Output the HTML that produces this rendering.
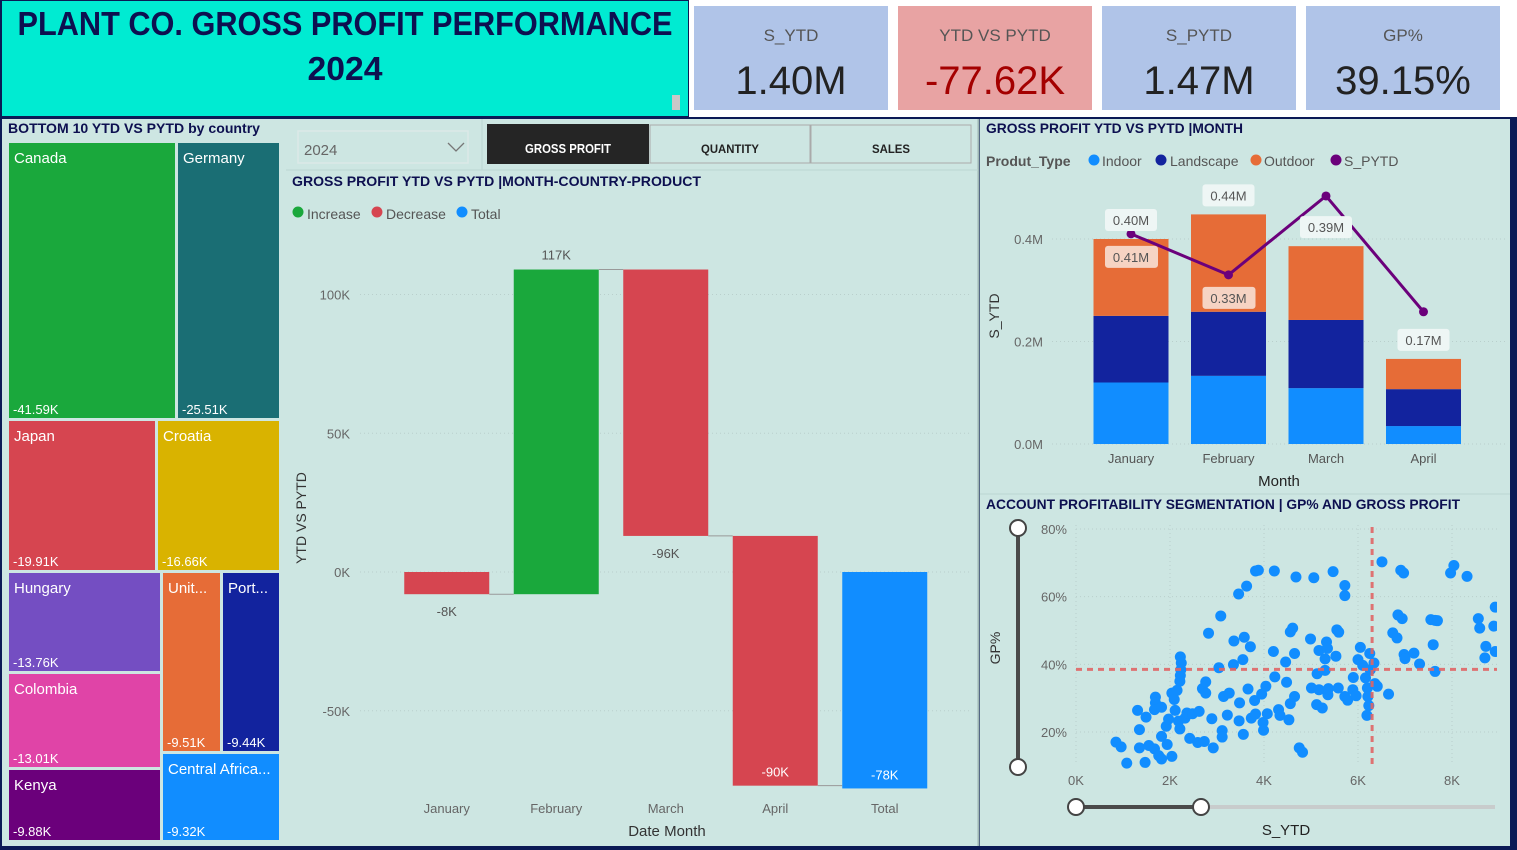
<!DOCTYPE html>
<html><head><meta charset="utf-8"><style>
html,body{margin:0;padding:0;background:#0b1a55;}
svg{display:block;font-family:"Liberation Sans",sans-serif;}
</style></head><body>
<svg id="root" width="1517" height="850" viewBox="0 0 1517 850" xmlns="http://www.w3.org/2000/svg">
<rect x="0" y="0" width="1517" height="850" fill="#0b1a55"/>
<!-- header -->
<rect x="2" y="1" width="686" height="115" fill="#00ebd2"/>
<text x="345" y="35" text-anchor="middle" font-size="33" font-weight="bold" fill="#0d1050" textLength="655" lengthAdjust="spacingAndGlyphs">PLANT CO. GROSS PROFIT PERFORMANCE</text>
<text x="345" y="80" text-anchor="middle" font-size="33" font-weight="bold" fill="#0d1050" textLength="75" lengthAdjust="spacingAndGlyphs">2024</text>
<rect x="672" y="95" width="8" height="15" fill="#c8c8c8"/>
<rect x="689" y="0" width="828" height="117" fill="#ffffff"/>
<g><rect x="694" y="6" width="194" height="104" fill="#b0c4e8"/><text x="791" y="41" text-anchor="middle" font-size="17" fill="#555">S_YTD</text><text x="791" y="94" text-anchor="middle" font-size="40" fill="#222">1.40M</text></g>
<g><rect x="898" y="6" width="194" height="104" fill="#e8a3a3"/><text x="995" y="41" text-anchor="middle" font-size="17" fill="#555">YTD VS PYTD</text><text x="995" y="94" text-anchor="middle" font-size="40" fill="#a40000">-77.62K</text></g>
<g><rect x="1102" y="6" width="194" height="104" fill="#b0c4e8"/><text x="1199" y="41" text-anchor="middle" font-size="17" fill="#555">S_PYTD</text><text x="1199" y="94" text-anchor="middle" font-size="40" fill="#222">1.47M</text></g>
<g><rect x="1306" y="6" width="194" height="104" fill="#b0c4e8"/><text x="1403" y="41" text-anchor="middle" font-size="17" fill="#555">GP%</text><text x="1403" y="94" text-anchor="middle" font-size="40" fill="#222">39.15%</text></g>
<!-- panels -->
<rect x="2" y="119" width="284" height="727" fill="#cde6e2"/>
<rect x="286" y="119" width="692" height="727" fill="#cde6e2"/>
<rect x="980" y="119" width="530" height="727" fill="#cde6e2"/>
<line x1="978.5" y1="119" x2="978.5" y2="846" stroke="#9fb7b4" stroke-width="2"/>
<line x1="980" y1="494" x2="1510" y2="494" stroke="#bcd6d2"/>
<line x1="286" y1="170" x2="978" y2="170" stroke="#bcd6d2"/>
<line x1="482" y1="119" x2="482" y2="170" stroke="#bcd6d2"/>
<!-- treemap -->
<text x="8" y="133" font-size="14" font-weight="bold" fill="#0d1050" textLength="252" lengthAdjust="spacingAndGlyphs">BOTTOM 10 YTD VS PYTD by country</text>
<g id="treemap"></g>
<!-- slicer and buttons -->
<g><rect x="298" y="131" width="170" height="32" fill="#cde6e2" stroke="#dbe9e7" stroke-width="1.5"/><text x="304" y="155" font-size="15" fill="#666">2024</text><polyline points="448,143 456,151 464,143" fill="none" stroke="#777" stroke-width="1.3"/></g>
<g><rect x="487" y="124" width="162" height="40" fill="#252525"/><text x="568" y="153" text-anchor="middle" font-size="13" font-weight="bold" fill="#fff" textLength="86" lengthAdjust="spacingAndGlyphs">GROSS PROFIT</text></g>
<g><rect x="650" y="125" width="160" height="38" fill="#cde6e2" stroke="#aaa"/><text x="730" y="153" text-anchor="middle" font-size="12" font-weight="bold" fill="#222" textLength="58" lengthAdjust="spacingAndGlyphs">QUANTITY</text></g>
<g><rect x="811" y="125" width="160" height="38" fill="#cde6e2" stroke="#aaa"/><text x="891" y="153" text-anchor="middle" font-size="12" font-weight="bold" fill="#222" textLength="38" lengthAdjust="spacingAndGlyphs">SALES</text></g>
<!-- waterfall -->
<text x="292" y="186" font-size="14" font-weight="bold" fill="#0d1050" textLength="409" lengthAdjust="spacingAndGlyphs">GROSS PROFIT YTD VS PYTD |MONTH-COUNTRY-PRODUCT</text>
<g font-size="14" fill="#555">
<circle cx="298" cy="212" r="5.5" fill="#1aa83c"/><text x="307" y="219">Increase</text>
<circle cx="377" cy="212" r="5.5" fill="#d64550"/><text x="386" y="219">Decrease</text>
<circle cx="462" cy="212" r="5.5" fill="#118dff"/><text x="471" y="219">Total</text></g>
<g id="waterfall"></g>
<text x="306" y="518" font-size="14" fill="#333" transform="rotate(-90 306 518)" text-anchor="middle">YTD VS PYTD</text>
<text x="667" y="836" font-size="15" fill="#333" text-anchor="middle">Date Month</text>
<!-- stacked bar -->
<text x="986" y="133" font-size="14" font-weight="bold" fill="#0d1050" textLength="257" lengthAdjust="spacingAndGlyphs">GROSS PROFIT YTD VS PYTD |MONTH</text>
<g font-size="14" fill="#555">
<text x="986" y="166" font-weight="bold">Produt_Type</text>
<circle cx="1094" cy="160" r="5.5" fill="#118dff"/><text x="1102" y="166">Indoor</text>
<circle cx="1161" cy="160" r="5.5" fill="#12239e"/><text x="1170" y="166">Landscape</text>
<circle cx="1256" cy="160" r="5.5" fill="#e66c37"/><text x="1264" y="166">Outdoor</text>
<circle cx="1336" cy="160" r="5.5" fill="#6b007b"/><text x="1344" y="166">S_PYTD</text></g>
<g id="bars"></g>
<text x="999" y="316" font-size="14" fill="#333" transform="rotate(-90 999 316)" text-anchor="middle">S_YTD</text>
<text x="1279" y="486" font-size="15" fill="#222" text-anchor="middle">Month</text>
<!-- scatter -->
<text x="986" y="509" font-size="14" font-weight="bold" fill="#0d1050" textLength="474" lengthAdjust="spacingAndGlyphs">ACCOUNT PROFITABILITY SEGMENTATION | GP% AND GROSS PROFIT</text>
<g id="scatter"></g>
<text x="1000" y="648" font-size="14" fill="#333" transform="rotate(-90 1000 648)" text-anchor="middle">GP%</text>
<text x="1286" y="835" font-size="15" fill="#222" text-anchor="middle">S_YTD</text>
<g><line x1="1018" y1="528" x2="1018" y2="767" stroke="#4a4a4a" stroke-width="4"/><circle cx="1018" cy="528" r="8" fill="#fff" stroke="#444" stroke-width="2"/><circle cx="1018" cy="767" r="8" fill="#fff" stroke="#444" stroke-width="2"/></g>
<g><line x1="1076" y1="807" x2="1495" y2="807" stroke="#c8cccc" stroke-width="4"/><line x1="1076" y1="807" x2="1201" y2="807" stroke="#4a4a4a" stroke-width="4"/><circle cx="1076" cy="807" r="8" fill="#fff" stroke="#444" stroke-width="2"/><circle cx="1201" cy="807" r="8" fill="#fff" stroke="#444" stroke-width="2"/></g>
</svg>
<script>
const NS="http://www.w3.org/2000/svg";
function mk(parent,tag,attrs,txt){const e=document.createElementNS(NS,tag);for(const k in attrs)e.setAttribute(k,attrs[k]);if(txt!==undefined)e.textContent=txt;parent.appendChild(e);return e;}

/* ---------- treemap ---------- */
const tmCountries=["Canada","Germany","Japan","Croatia","Hungary","Colombia","Kenya","Unit...","Port...","Central Africa..."];
const tmValues=["-41.59K","-25.51K","-19.91K","-16.66K","-13.76K","-13.01K","-9.88K","-9.51K","-9.44K","-9.32K"];
const tmColors=["#1aa83c","#1a6e74","#d64550","#d9b300","#744ec2","#e044a7","#6b007b","#e66c37","#12239e","#118dff"];
const tmRects=[[9,143,166,275],[178,143,101,275],[9,421,146,149],[158,421,121,149],[9,573,151,98],[9,674,151,93],[9,770,151,70],[163,573,57,178],[223,573,56,178],[163,754,116,86]];
const tm=document.getElementById('treemap');
tmCountries.forEach((c,i)=>{const r=tmRects[i];
 const g=mk(tm,'g',{});
 
 
 mk(g,'rect',{x:r[0],y:r[1],width:r[2],height:r[3],fill:tmColors[i]});
 mk(g,'text',{x:r[0]+5,y:r[1]+20,'font-size':15,fill:'#fff'},c);
 mk(g,'text',{x:r[0]+4,y:r[1]+r[3]-4,'font-size':13,fill:'#fff'},tmValues[i]);
});

/* ---------- waterfall ---------- */
const wfCategories=["January","February","March","April","Total"];
const wfDeltas=[-8,117,-96,-90];
const wfTotal=-78;
const wfLabels=["-8K","117K","-96K","-90K","-78K"];
const wfTicks=[100,50,0,-50];
const wfTickLabels=["100K","50K","0K","-50K"];
(function(){
 const g=document.getElementById('waterfall');
 const y=v=>572-v*2.775;
 const x0=392,step=109.5,bw=85;
 const cx=i=>x0+step*i+step/2;
 wfTicks.forEach((t,i)=>{mk(g,'line',{x1:360,x2:970,y1:y(t),y2:y(t),stroke:'#b9cfcc','stroke-dasharray':'1 3'});
  mk(g,'text',{x:350,y:y(t)+5,'text-anchor':'end','font-size':13,fill:'#666'},wfTickLabels[i]);});
 let cum=0;
 wfCategories.forEach((c,i)=>{
  let a,b,col;
  if(i<wfDeltas.length){a=cum;b=cum+wfDeltas[i];col=wfDeltas[i]>=0?'#1aa83c':'#d64550';cum=b;}
  else{a=0;b=wfTotal;col='#118dff';}
  const top=Math.min(y(a),y(b)),h=Math.abs(y(a)-y(b));
  const r=mk(g,'rect',{x:cx(i)-bw/2,y:top,width:bw,height:h,fill:col});
  
  
  if(i<wfDeltas.length-0 && i<wfCategories.length-1){
   mk(g,'line',{x1:cx(i)+bw/2,x2:cx(i+1)-bw/2,y1:y(cum),y2:y(cum),stroke:'#999','stroke-width':1});
  }
  const up=(i<wfDeltas.length&&wfDeltas[i]>=0);
  const ly=up?top-10:top+h+(b<-50?-9:22);
  const inside=(b<-50);
  mk(g,'text',{x:cx(i),y:ly,'text-anchor':'middle','font-size':13,fill:inside?'#fff':'#555'},wfLabels[i]);
  mk(g,'text',{x:cx(i),y:813,'text-anchor':'middle','font-size':13,fill:'#666'},c);
 });
})();

/* ---------- stacked bar + line ---------- */
const barMonths=["January","February","March","April"];
const indoor=[0.12,0.133,0.109,0.035];
const landscape=[0.13,0.125,0.133,0.072];
const outdoor=[0.15,0.19,0.144,0.059];
const sPytd=[0.41,0.33,0.484,0.258];
const totalLabels=["0.40M","0.44M","0.39M","0.17M"];
const pytdLabels=["0.41M","0.33M","",""];
const barTicks=[0,0.2,0.4];
const barTickLabels=["0.0M","0.2M","0.4M"];
(function(){
 const g=document.getElementById('bars');
 const y=v=>444-v*512.5;
 const cx=i=>1131+i*97.5, bw=75;
 barTicks.forEach((t,i)=>{mk(g,'line',{x1:1052,x2:1505,y1:y(t),y2:y(t),stroke:'#b9cfcc','stroke-dasharray':'1 3'});
  mk(g,'text',{x:1043,y:y(t)+5,'text-anchor':'end','font-size':13,fill:'#666'},barTickLabels[i]);});
 const series=[[indoor,'#118dff','indoor'],[landscape,'#12239e','landscape'],[outdoor,'#e66c37','outdoor']];
 barMonths.forEach((m,i)=>{
  let base=0;
  series.forEach(s=>{const v=s[0][i];
   const r=mk(g,'rect',{x:cx(i)-bw/2,y:y(base+v),width:bw,height:y(base)-y(base+v),fill:s[1]});
   
   
   base+=v;});
  mk(g,'text',{x:cx(i),y:463,'text-anchor':'middle','font-size':13,fill:'#555'},m);
 });
 const pts=sPytd.map((v,i)=>cx(i)+','+y(v)).join(' ');
 const pl=mk(g,'polyline',{points:pts,fill:'none',stroke:'#6b007b','stroke-width':3});
 
 
 sPytd.forEach((v,i)=>{const c=mk(g,'circle',{cx:cx(i),cy:y(v),r:4.5,fill:'#6b007b'});
  
  });
 barMonths.forEach((m,i)=>{
  const tot=indoor[i]+landscape[i]+outdoor[i];
  const ly=y(tot)-18;
  mk(g,'rect',{x:cx(i)-26,y:ly-12,width:52,height:22,rx:3,fill:'#eef6f5'});
  mk(g,'text',{x:cx(i),y:ly+4,'text-anchor':'middle','font-size':13,fill:'#555'},totalLabels[i]);
  if(pytdLabels[i]){const py=y(sPytd[i])+24;
   mk(g,'rect',{x:cx(i)-26,y:py-12,width:53,height:22,rx:3,fill:'#f6d3c3'});
   mk(g,'text',{x:cx(i),y:py+4,'text-anchor':'middle','font-size':13,fill:'#555'},pytdLabels[i]);}
 });
})();

/* ---------- scatter ---------- */
const scSytdK=[0.85,0.96,1.08,1.31,1.35,1.35,1.49,1.47,1.55,1.67,1.69,1.69,1.67,1.82,1.82,1.76,1.82,1.94,1.92,1.97,2.04,2.09,2.15,2.04,2.11,2.18,2.21,2.22,2.24,2.23,2.22,2.21,2.32,2.36,2.48,2.42,2.59,2.62,2.73,2.69,2.76,2.76,2.82,2.89,2.92,3.04,3.08,3.11,3.11,3.14,3.22,3.26,3.35,3.36,3.46,3.48,3.47,3.56,3.55,3.58,3.63,3.66,3.71,3.73,3.80,3.82,3.88,3.82,3.95,3.98,4.04,4.07,3.99,4.20,4.22,4.23,4.31,4.34,4.46,4.48,4.53,4.56,4.56,4.61,4.65,4.65,4.68,4.75,4.82,4.99,5.01,5.06,5.12,5.13,5.17,5.17,5.24,5.30,5.30,5.33,5.35,5.36,5.37,5.47,5.53,5.55,5.58,5.59,5.72,5.72,5.72,5.78,5.89,5.90,5.96,6.00,6.05,6.10,6.16,6.20,6.21,6.23,6.19,6.25,6.26,6.34,6.36,6.41,6.51,6.65,6.74,6.83,6.85,6.94,6.91,6.97,6.98,7.00,7.19,7.31,7.55,7.64,7.69,7.60,7.64,7.97,8.04,8.32,8.56,8.59,8.70,8.72,8.89,8.92,8.92];
const scGp=[17.0,15.6,10.8,26.4,20.7,15.3,24.4,11.0,16.0,15.0,30.3,28.6,26.6,27.3,18.7,13.0,12.0,16.3,21.7,23.8,31.5,29.6,32.3,12.8,26.4,23.2,20.9,42.2,40.4,38.4,36.7,35.0,24.1,25.6,25.4,18.1,16.9,26.1,17.2,32.8,31.5,34.8,49.2,23.9,15.3,39.0,54.3,20.4,18.5,30.5,25.0,31.5,39.9,46.9,60.8,28.6,23.3,19.3,41.4,48.0,63.1,32.7,45.2,24.1,29.3,67.6,67.8,25.3,31.2,22.8,33.5,25.4,20.5,43.8,67.6,36.3,26.6,24.9,40.7,34.7,23.6,28.4,49.6,50.7,30.5,43.2,65.8,15.3,14.0,47.5,33.0,65.6,28.1,37.2,32.5,44.1,27.1,41.6,38.2,46.6,44.7,31.0,32.8,67.4,42.4,50.2,33.0,49.5,63.3,60.3,30.5,29.4,32.5,36.1,30.7,41.4,45.0,39.7,36.0,33.0,30.5,27.8,24.9,43.2,38.4,40.4,34.3,33.5,70.3,31.2,49.3,47.8,54.6,53.5,67.8,67.0,42.9,41.7,43.3,40.1,53.2,53.0,52.9,45.8,37.9,67.0,69.2,66.0,53.5,50.7,41.9,45.3,51.3,56.9,43.8];
const scAvgSytdK=6.3;
const scAvgGp=38.5;
const scXTicks=[0,2,4,6,8];
const scXTickLabels=["0K","2K","4K","6K","8K"];
const scYTicks=[20,40,60,80];
const scYTickLabels=["20%","40%","60%","80%"];
(function(){
 const g=document.getElementById('scatter');
 const x=k=>1076+k*47;
 const y=p=>529+(80-p)*3.383;
 mk(mk(document.querySelector('svg'),'defs',{}),'clipPath',{id:'scclip'}).appendChild(Object.assign(document.createElementNS(NS,'rect'),{}));
 const cr=document.querySelector('#scclip rect');cr.setAttribute('x',1070);cr.setAttribute('y',520);cr.setAttribute('width',427);cr.setAttribute('height',250);
 scYTicks.forEach((t,i)=>{mk(g,'line',{x1:1076,x2:1497,y1:y(t),y2:y(t),stroke:'#b9cfcc','stroke-dasharray':'1 3'});
  mk(g,'text',{x:1067,y:y(t)+5,'text-anchor':'end','font-size':13,fill:'#666'},scYTickLabels[i]);});
 scXTicks.forEach((t,i)=>{mk(g,'line',{x1:x(t),x2:x(t),y1:525,y2:764,stroke:'#b9cfcc','stroke-dasharray':'1 3'});
  mk(g,'text',{x:x(t),y:785,'text-anchor':'middle','font-size':13,fill:'#666'},scXTickLabels[i]);});
 const pg=mk(g,'g',{'clip-path':'url(#scclip)'});
 scSytdK.forEach((k,i)=>{const c=mk(pg,'circle',{cx:x(k),cy:y(scGp[i]),r:5.5,fill:'#118dff'});
  
  });
 const ax=mk(g,'line',{x1:x(scAvgSytdK),x2:x(scAvgSytdK),y1:527,y2:766,stroke:'#e06666','stroke-width':3,'stroke-dasharray':'6 5',opacity:0.9});
 
 
 const ay=mk(g,'line',{x1:1076,x2:1497,y1:y(scAvgGp),y2:y(scAvgGp),stroke:'#e06666','stroke-width':3,'stroke-dasharray':'6 5',opacity:0.9});
 
 
})();
</script>
</body></html>
